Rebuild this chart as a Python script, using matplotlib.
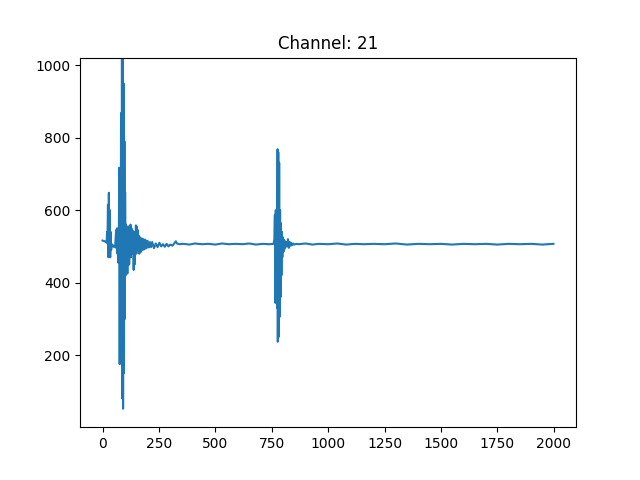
import matplotlib
matplotlib.use("Agg")
import matplotlib.pyplot as plt

# sample index and ADC reading
sample = [
    0, 5, 10, 15, 18, 20, 22, 24, 26, 28, 30, 32, 34, 36, 38, 40, 44, 48, 52, 56,
    60, 62, 64, 66, 68, 70, 72, 74, 76, 78, 80, 82, 84, 86, 88, 90, 91, 93, 95, 97,
    99, 100, 102, 104, 106, 108, 110, 112, 114, 116, 118, 120, 122, 124, 126, 128,
    130, 132, 134, 136, 138, 140, 142, 144, 146, 148, 150, 152, 154, 156, 158, 160,
    163, 166, 170, 174, 178, 182, 186, 190, 195, 200, 205, 210, 215, 220, 228, 236,
    244, 252, 260, 268, 276, 284, 292, 300, 310, 320, 325, 330, 340, 360, 385, 410,
    440, 470, 500, 530, 560, 590, 620, 650, 680, 710, 740, 758,
    762, 764, 766, 768, 770, 772, 774, 776, 777, 779, 781, 783, 785, 787, 789, 791,
    793, 795, 797, 800, 802, 804, 806, 808, 811, 814, 818, 822, 826, 830, 833,
    836, 840, 845, 850, 860, 870, 900, 930, 960, 1000, 1040, 1080, 1120, 1160,
    1200, 1250, 1300, 1350, 1400, 1450, 1500, 1550, 1600, 1650, 1700, 1750, 1800,
    1850, 1900, 1950, 1999,
]
reading = [
    516, 515, 514, 512, 510, 540, 520, 615, 470, 648, 480, 600, 470, 540, 490, 500, 505, 500, 498, 500,
    545, 495, 550, 480, 520, 455, 500, 717, 175, 700, 300, 868, 200, 1023, 80, 1023, 52, 950, 150, 790,
    300, 650, 420, 560, 440, 555, 425, 540, 470, 555, 450, 530, 480, 560, 470, 550,
    490, 545, 480, 540, 435, 520, 450, 540, 490, 558, 480, 555, 490, 545, 500, 530,
    480, 525, 485, 522, 490, 520, 492, 518, 495, 515, 497, 512, 498, 512, 495, 508,
    498, 510, 500, 506, 499, 507, 500, 505, 502, 510, 514, 508, 506, 507, 505, 508,
    506, 507, 505, 508, 506, 507, 506, 508, 505, 507, 506, 507,
    520, 587, 344, 600, 420, 590, 330, 768, 237, 760, 250, 731, 306, 600, 360, 564,
    420, 540, 470, 525, 485, 518, 492, 515, 498, 512, 500, 520, 496, 512, 502,
    510, 503, 508, 505, 507, 506, 508, 505, 507, 506, 508, 505, 507, 506,
    507, 506, 508, 505, 507, 506, 507, 505, 507, 506, 507, 505, 507,
    506, 507, 505, 507,
]

fig, ax = plt.subplots(figsize=(6.4, 4.8), dpi=100)
ax.plot(sample, reading)
ax.set_ylim(1, 1021)
ax.set_title("Channel: 21")
fig.savefig("out.png")
